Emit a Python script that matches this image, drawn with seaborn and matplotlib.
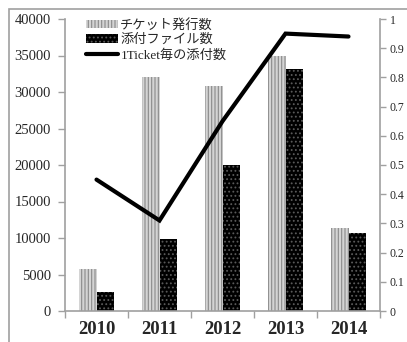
import matplotlib
matplotlib.use("Agg")
import matplotlib.pyplot as plt
import matplotlib.patches as mpatches
from matplotlib.lines import Line2D
from matplotlib.ticker import FuncFormatter, MultipleLocator, FixedLocator
import seaborn as sns
import pandas as pd

years = ["2010", "2011", "2012", "2013", "2014"]
tickets = [5800, 32000, 30800, 35000, 11400]
attachments = [2600, 9900, 20000, 33200, 10700]
ratio = [0.45, 0.31, 0.65, 0.95, 0.94]
series_names = ["チケット発行数", "添付ファイル数", "1Ticket毎の添付数"]

sns.set_theme(style="white")
plt.rcParams['font.family'] = ['Liberation Serif', 'Noto Sans CJK JP', 'DejaVu Sans']
plt.rcParams['hatch.linewidth'] = 0.8

df = pd.DataFrame({
    "year": years * 2,
    "value": tickets + attachments,
    "series": [series_names[0]] * 5 + [series_names[1]] * 5,
})

fig = plt.figure(figsize=(4.07, 3.42), dpi=100)
ax = fig.add_axes([65/407, 1-311/342, (380-65)/407, (311-19)/342])

sns.barplot(data=df, x="year", y="value", hue="series", ax=ax,
            palette=["#c8c8c8", "#000000"], width=0.56, gap=0.0,
            legend=False, saturation=1)

gray_style = dict(facecolor="#d4d4d4", edgecolor="#8a8a8a", hatch="|||||", linewidth=0)
black_style = dict(facecolor="#000000", edgecolor="#5a5a5a", hatch="....", linewidth=0)
for i, p in enumerate(ax.patches):
    st = gray_style if i < 5 else black_style
    p.set_facecolor(st["facecolor"])
    p.set_edgecolor(st["edgecolor"])
    p.set_hatch(st["hatch"])
    p.set_linewidth(0)

ax.set_xlim(-0.5, 4.5)
ax.set_ylim(0, 40000)
ax.yaxis.set_major_locator(MultipleLocator(5000))
ax.set_xlabel("")
ax.set_ylabel("")

ax2 = ax.twinx()
ax2.plot(range(len(years)), ratio, color="black", lw=3.0, solid_joinstyle="miter")
ax2.set_ylim(0, 1)
ax2.yaxis.set_major_locator(MultipleLocator(0.1))
ax2.yaxis.set_major_formatter(FuncFormatter(lambda v, p: f"{round(v, 1):g}"))

spine_col = "#a0a0a0"
for a in (ax, ax2):
    a.spines["top"].set_visible(False)
    for s in ["left", "right", "bottom"]:
        a.spines[s].set_color(spine_col)
        a.spines[s].set_linewidth(1.2)
ax.spines["right"].set_visible(False)
ax2.spines["left"].set_visible(False)
ax2.spines["bottom"].set_visible(False)

ax.tick_params(axis="y", direction="out", length=5, width=1, color=spine_col,
               labelsize=10.5, pad=5, left=True)
ax2.tick_params(axis="y", direction="out", length=4, width=1, color=spine_col,
                labelsize=8.5, pad=3, right=True)
ax.xaxis.set_minor_locator(FixedLocator([-0.5, 0.5, 1.5, 2.5, 3.5, 4.5]))
ax.tick_params(axis="x", which="major", length=0, labelsize=13.5, pad=7)
ax.tick_params(axis="x", which="minor", direction="out", length=5, width=1,
               color=spine_col, bottom=True)
for t in ax.get_xticklabels():
    t.set_fontweight("bold")

handles = [
    mpatches.Patch(**gray_style),
    mpatches.Patch(**black_style),
    Line2D([0], [0], color="black", lw=3),
]
leg = ax.legend(handles, series_names, loc="upper left", bbox_to_anchor=(0.05, 1.02),
                frameon=False, fontsize=9.5, handlelength=2.4, handleheight=0.6,
                handletextpad=0.2, labelspacing=0.2, borderaxespad=0)

border = mpatches.Rectangle((9/407, -0.2), 1.2, 1 - 9/342 + 0.2, transform=fig.transFigure,
                            fill=False, edgecolor="#a0a0a0", linewidth=1.2, zorder=-1)
fig.patches.append(border)

fig.savefig("out.png", dpi=100)
